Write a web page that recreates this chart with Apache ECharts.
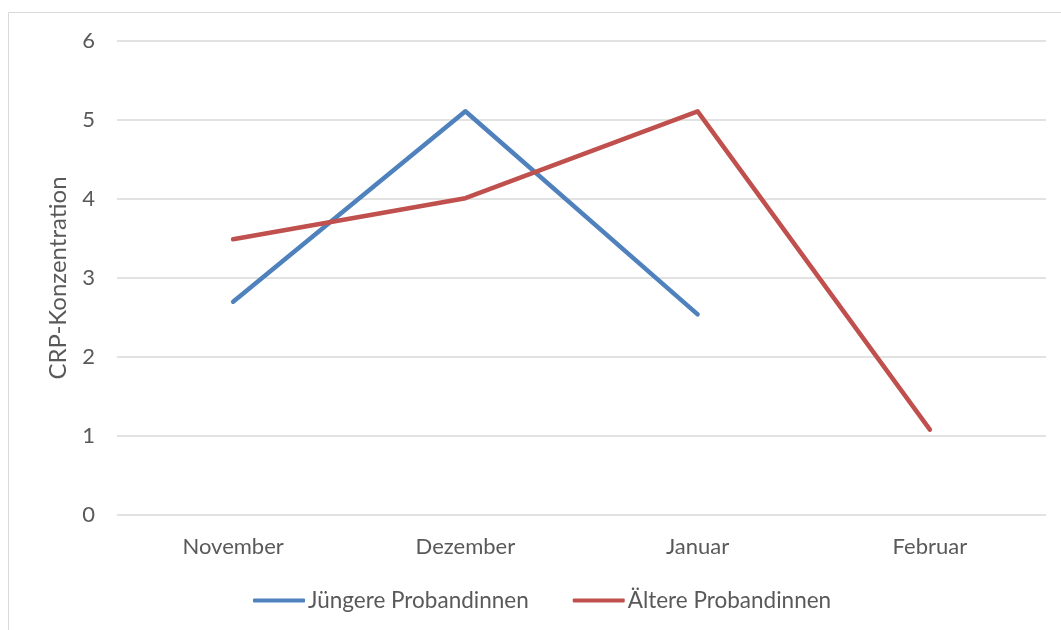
<!DOCTYPE html>
<html><head><meta charset="utf-8">
<script src="https://cdn.jsdelivr.net/npm/echarts@6/dist/echarts.min.js"></script>
<style>html,body{margin:0;padding:0;background:#fff}#c{width:1061px;height:630px}</style>
</head><body><div id="c"></div>
<script>
const categories = ["November", "Dezember", "Januar", "Februar"];
const seriesNames = ["Jüngere Probandinnen", "Ältere Probandinnen"];
const youngValues = [2.70, 5.11, 2.54, null];
const olderValues = [3.49, 4.01, 5.11, 1.08];
const yTicks = [0, 1, 2, 3, 4, 5, 6];
const yTitle = "CRP-Konzentration";

const font = "Lato, 'Open Sans', sans-serif";
const chart = echarts.init(document.getElementById('c'), null, {renderer: 'canvas'});
chart.setOption({
  animation: false,
  backgroundColor: '#fff',
  graphic: [{type: 'rect', shape: {x: 8.5, y: 12.5, width: 1100, height: 700}, style: {fill: 'none', stroke: '#d9d9d9', lineWidth: 1}, silent: true}],
  grid: {left: 117, right: 15, top: 41, bottom: 115, containLabel: false},
  legend: {
    top: 584, left: 248, itemWidth: 52, itemHeight: 4, itemGap: 44,
    icon: 'roundRect',
    textStyle: {fontFamily: font, fontSize: 22.5, color: '#595959', padding: [0, 0, 0, -2]},
    data: seriesNames
  },
  xAxis: {
    type: 'category', data: categories, boundaryGap: true,
    axisLine: {show: false}, axisTick: {show: false},
    axisLabel: {fontFamily: font, fontSize: 22, color: '#595959', margin: 21}
  },
  yAxis: {
    type: 'value', min: yTicks[0], max: yTicks[yTicks.length - 1], interval: 1,
    name: yTitle, nameLocation: 'middle', nameGap: 47,
    nameTextStyle: {fontFamily: font, fontSize: 24, color: '#595959'},
    axisLine: {show: false}, axisTick: {show: false},
    axisLabel: {fontFamily: font, fontSize: 22, color: '#595959', margin: 22},
    splitLine: {lineStyle: {color: '#d9d9d9', width: 1.5}}
  },
  series: [
    {name: seriesNames[0], type: 'line', data: youngValues, symbol: 'none', connectNulls: false,
     itemStyle: {color: '#4F81BD'}, lineStyle: {color: '#4F81BD', width: 4.5, cap: 'round', join: 'round'}},
    {name: seriesNames[1], type: 'line', data: olderValues, symbol: 'none',
     itemStyle: {color: '#C0504D'}, lineStyle: {color: '#C0504D', width: 4.5, cap: 'round', join: 'round'}}
  ]
});
</script></body></html>
